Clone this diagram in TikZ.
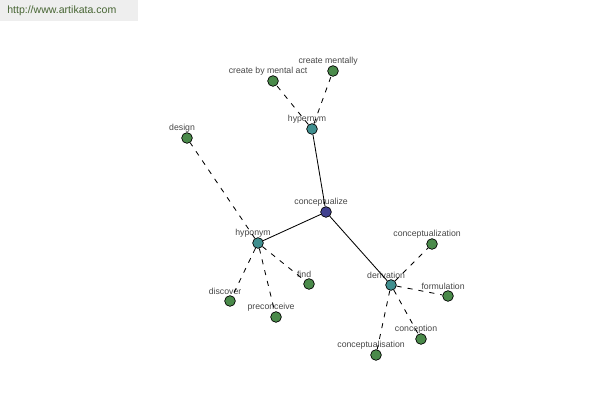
\documentclass[tikz,border=0pt]{standalone}
\usepackage{fontspec}
\setmainfont{Liberation Sans}
\usepackage{tikz}
\usepackage{xcolor}
\usetikzlibrary{positioning}
\definecolor{cCore}{RGB}{64,64,143}
\definecolor{cRel}{RGB}{64,143,143}
\definecolor{cLeaf}{RGB}{74,138,74}
\definecolor{cText}{RGB}{70,70,70}
\definecolor{cMark}{RGB}{238,238,238}
\definecolor{cMarkText}{RGB}{70,100,50}
\tikzset{
    dot/.style   ={circle, draw=black, line width=0.5pt, minimum size=7.6pt, inner sep=0pt},
    core/.style  ={dot, fill=cCore},
    rel/.style   ={dot, fill=cRel},
    leaf/.style  ={dot, fill=cLeaf},
    tag/.style   ={font=\fontsize{6.2}{7}\selectfont, text=cText, inner sep=1pt, xshift=-3.5pt, label distance=-1pt},
    solidlink/.style={line width=0.6pt},
    dashlink/.style ={line width=0.6pt, dash pattern=on 3.6pt off 4.3pt},
}

\begin{document}
\begin{tikzpicture}[x=0.025cm, y=-0.025cm]
                \useasboundingbox (0,0) rectangle (600,400);
                \fill[cMark] (0,0) rectangle (138,21);
                \node[anchor=west, font=\fontsize{7.5}{8}\selectfont, text=cMarkText, inner sep=0pt] (mark) at (7,11) {http://www.artikata.com};
                \node[core, label={[tag]above:conceptualize}] (concept) at (326,212) {};
                \node[rel, label={[tag]above:hypernym}] (hyper) at (312,129) {};
                \node[rel, label={[tag]above:hyponym}] (hypo) at (258,243) {};
                \node[rel, label={[tag]above:derivation}] (deriv) at (391,285) {};
                \node[leaf, label={[tag]above:create by mental act}] (mentalact) at (273,81) {};
                \node[leaf, label={[tag]above:create mentally}] (mentally) at (333,71) {};
                \node[leaf, label={[tag]above:design}] (design) at (187,138) {};
                \node[leaf, label={[tag]above:discover}] (discover) at (230,301) {};
                \node[leaf, label={[tag]above:preconceive}] (preconc) at (276,317) {};
                \node[leaf, label={[tag]above:find}] (find) at (309,284) {};
                \node[leaf, label={[tag]above:conceptualization}] (conceptz) at (432,244) {};
                \node[leaf, label={[tag]above:formulation}] (formul) at (448,296) {};
                \node[leaf, label={[tag]above:conception}] (concept2) at (421,339) {};
                \node[leaf, label={[tag]above:conceptualisation}] (concepts) at (376,355) {};
                \draw[solidlink](concept)--(hyper);
                \draw[solidlink](concept)--(hypo);
                \draw[solidlink](concept)--(deriv);
                \foreach \leafnode in {mentalact, mentally}
                    \draw[dashlink](hyper)--(\leafnode);
                \foreach \leafnode in {design, discover, preconc, find}
                    \draw[dashlink](hypo)--(\leafnode);
                \foreach \leafnode in {conceptz, formul, concept2, concepts}
                    \draw[dashlink](deriv)--(\leafnode);
            \end{tikzpicture}
\end{document}
